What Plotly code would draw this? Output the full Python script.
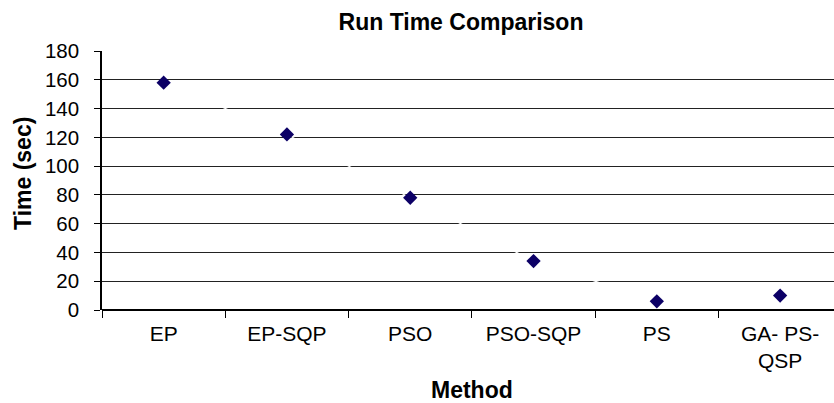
import plotly.graph_objects as go

methods = ["EP", "EP-SQP", "PSO", "PSO-SQP", "PS", "GA- PS-<br>QSP"]
times = [158, 122, 78, 34, 6, 10]
y_ticks = [0, 20, 40, 60, 80, 100, 120, 140, 160, 180]

FONT = "Liberation Sans, Arial, sans-serif"

W, H = 834, 403
ML, MR, MT, MB = 102, 0, 51, 93
PW, PH = W - ML - MR, H - MT - MB


def px_to_paper(px, py):
    return (px - ML) / PW, (H - MB - py) / PH


fig = go.Figure()
# faint white connector line (visible only where it crosses gridlines)
fig.add_trace(go.Scatter(x=methods, y=times, mode="lines",
                         line=dict(color="white", width=1.2),
                         hoverinfo="skip", showlegend=False))
fig.add_trace(go.Scatter(x=methods, y=times, mode="markers",
                         marker=dict(symbol="diamond", size=11, color="#0c0066",
                                     line=dict(width=0)),
                         showlegend=False))

mx, my = px_to_paper(472, 390)
tx, ty = px_to_paper(23, 174)

fig.update_layout(
    width=W, height=H,
    margin=dict(l=ML, r=MR, t=MT, b=MB),
    paper_bgcolor="white", plot_bgcolor="white",
    font=dict(family=FONT, size=20, color="black"),
    title=dict(text="<b>Run Time Comparison</b>", x=461/834, xanchor="center",
               y=1 - 22/403, yanchor="middle",
               font=dict(family=FONT, size=23, color="black")),
    xaxis=dict(
        type="category", range=[-0.5, 5.437],
        tickson="boundaries", ticks="outside", ticklen=7, tickwidth=1,
        tickcolor="black", showgrid=False, showline=False, zeroline=False,
        tickfont=dict(family=FONT, size=21), ticklabelstandoff=9,
    ),
    yaxis=dict(
        range=[0, 180], tickvals=y_ticks, ticks="outside", ticklen=6,
        tickwidth=1, tickcolor="black", showgrid=True, gridcolor="#222222",
        gridwidth=1, showline=True, linecolor="black", linewidth=1.5,
        zeroline=True, zerolinecolor="black", zerolinewidth=1.5,
        tickfont=dict(family=FONT, size=20.5), ticklabelstandoff=11,
    ),
    annotations=[
        dict(text="<b>Method</b>", xref="paper", yref="paper",
             x=mx, y=my, xanchor="center", yanchor="middle",
             showarrow=False, font=dict(family=FONT, size=23, color="black")),
        dict(text="<b>Time (sec)</b>", xref="paper", yref="paper",
             x=tx, y=ty, xanchor="center", yanchor="middle",
             textangle=-90, showarrow=False,
             font=dict(family=FONT, size=23, color="black")),
    ],
)

fig.write_html("out.html")
